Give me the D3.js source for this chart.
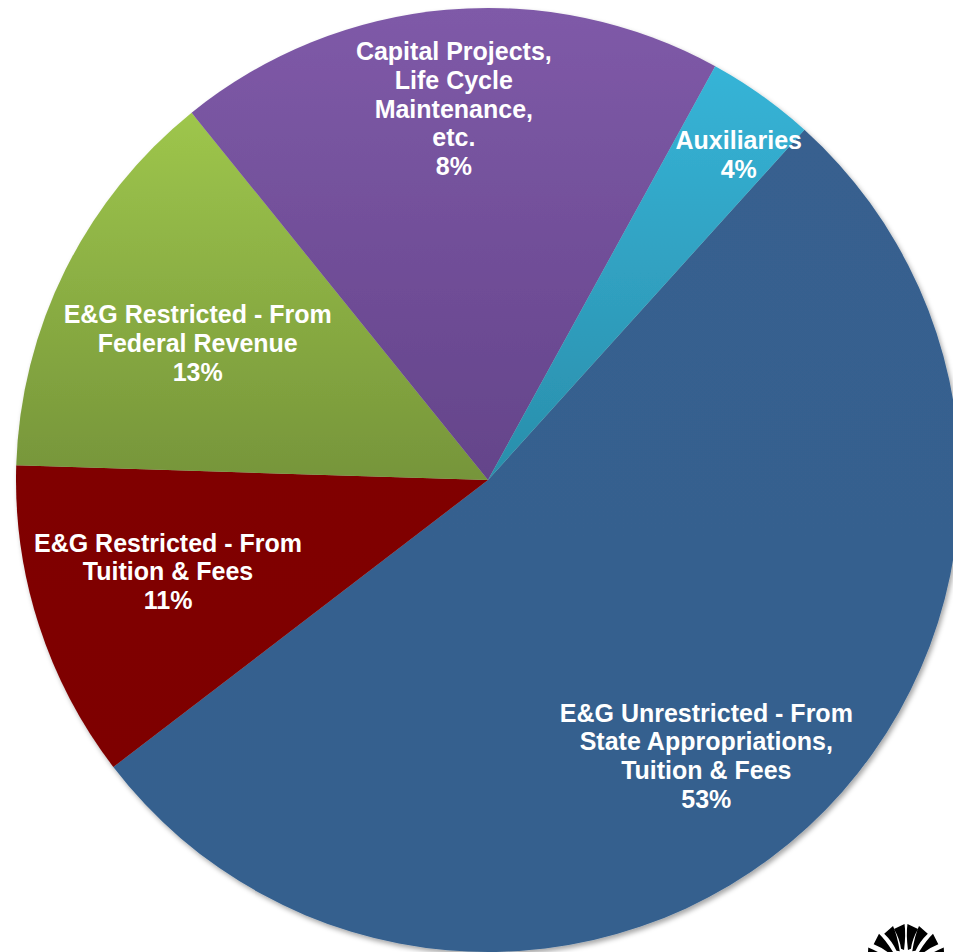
<!DOCTYPE html>
<html><head><meta charset="utf-8">
<script src="https://cdn.jsdelivr.net/npm/d3@7"></script>
<style>html,body{margin:0;padding:0;background:#fff;overflow:hidden}svg{display:block}</style>
</head><body><svg id="chart" width="953" height="952"></svg>
<script>
// ---- data ----
const categories = [
  "E&G Unrestricted - From State Appropriations, Tuition & Fees",
  "E&G Restricted - From Tuition & Fees",
  "E&G Restricted - From Federal Revenue",
  "Capital Projects, Life Cycle Maintenance, etc.",
  "Auxiliaries"
];
const labelLines = [
  ["E&G Unrestricted - From", "State Appropriations,", "Tuition & Fees"],
  ["E&G Restricted - From", "Tuition & Fees"],
  ["E&G Restricted - From", "Federal Revenue"],
  ["Capital Projects,", "Life Cycle", "Maintenance,", "etc."],
  ["Auxiliaries"]
];
// slice sizes as drawn in the picture (share of the circle)
const sliceShares = [52.9, 10.9, 13.7, 18.8, 3.7];
// percentage labels printed on the slices
const percentLabels = ["53%", "11%", "13%", "8%", "4%"];

// ---- style / layout ----
const fills = [
  ["#37618f", "#35608e"],
  ["#800000", "#7e0000"],
  ["#9ec64c", "#76953a"],
  ["#7f5aa8", "#64448a"],
  ["#36b4d7", "#2a8eab"]
];
const labelRadius = [0.745, 0.705, 0.68, 0.79, 0.87];
const labelAngleShift = [4.3, 1.9, -1.2, -0.2, 2.2];
const cx = 488, cy = 480, R = 472;
const startDeg = 42.1;
const fontSize = 25, lineStep = 28.7;

const svg = d3.select("#chart");
const defs = svg.append("defs");
fills.forEach((f, i) => {
  const g = defs.append("linearGradient").attr("id", "grad" + i)
    .attr("x1", 0).attr("y1", 0).attr("x2", 0).attr("y2", 1);
  g.append("stop").attr("offset", "0%").attr("stop-color", f[0]);
  g.append("stop").attr("offset", "100%").attr("stop-color", f[1]);
});
const filt = defs.append("filter").attr("id", "shadow")
  .attr("x", "-10%").attr("y", "-10%").attr("width", "120%").attr("height", "120%");
filt.append("feDropShadow").attr("dx", 2).attr("dy", 3).attr("stdDeviation", 2.5)
  .attr("flood-color", "#000").attr("flood-opacity", 0.35);

const toRad = d => d * Math.PI / 180;
const pie = d3.pie().sort(null).value(d => d)
  .startAngle(toRad(startDeg)).endAngle(toRad(startDeg) + 2 * Math.PI);
const arcs = pie(sliceShares);
const arc = d3.arc().innerRadius(0).outerRadius(R);

const g = svg.append("g").attr("transform", `translate(${cx},${cy})`);
g.append("g").attr("filter", "url(#shadow)")
  .selectAll("path").data(arcs).join("path")
  .attr("d", arc)
  .attr("fill", (d, i) => `url(#grad${i})`);

// labels
const lab = g.append("g")
  .attr("font-family", "'Liberation Sans', Arial, Helvetica, sans-serif")
  .attr("font-weight", "bold").attr("font-size", fontSize)
  .attr("fill", "#ffffff").attr("text-anchor", "middle");
arcs.forEach((a, i) => {
  const mid = (a.startAngle + a.endAngle) / 2 + toRad(labelAngleShift[i]);
  const r = R * labelRadius[i];
  const x = r * Math.sin(mid), y = -r * Math.cos(mid);
  const lines = labelLines[i].concat([percentLabels[i]]);
  const n = lines.length;
  const t = lab.append("text");
  lines.forEach((ln, k) => {
    t.append("tspan").attr("x", x)
      .attr("y", y + (k - (n - 1) / 2) * lineStep + 9)
      .text(ln);
  });
});

// logo (decorative fan at bottom-right)
const logo = svg.append("g").attr("transform", "translate(906,966)").attr("fill", "#000");
const petalAngles = [-70, -46, -24, -8, 8, 24, 46, 70];
petalAngles.forEach(a => {
  const pa = d3.path();
  const p = (rr, ang) => [rr * Math.sin(toRad(ang)), -rr * Math.cos(toRad(ang))];
  const s = a < 0 ? -1 : 1;
  const p0 = p(16, a - s * 1), p1 = p(42, a - s * 6), p2 = p(39, a + s * 10), p3 = p(18, a + s * 8);
  pa.moveTo(p0[0], p0[1]);
  pa.quadraticCurveTo(...p(32, a - s * 8), p1[0], p1[1]);
  pa.lineTo(p2[0], p2[1]);
  pa.quadraticCurveTo(...p(28, a + s * 5), p3[0], p3[1]);
  pa.closePath();
  logo.append("path").attr("d", pa.toString());
});
</script>
</body></html>
